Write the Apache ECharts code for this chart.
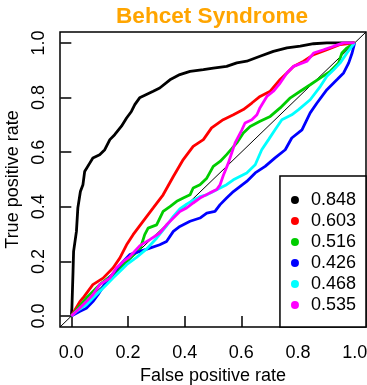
<!DOCTYPE html>
<html>
<head>
<meta charset="utf-8">
<script src="https://cdn.jsdelivr.net/npm/echarts@6/dist/echarts.min.js"></script>
<style>
  html, body { margin: 0; padding: 0; background: #fff; }
  #chart { width: 367px; height: 385px; }
</style>
</head>
<body>
<div id="chart"></div>
<script>
// Axis ticks shared by both axes
const tickValues = [0, 0.2, 0.4, 0.6, 0.8, 1.0];

// AUC of each model, used as legend labels
const aucLabels = ['0.848', '0.603', '0.516', '0.426', '0.468', '0.535'];

// ROC curves as [false positive rate, true positive rate]
const rocBlack = [
  [0, 0], [0.002, 0.029], [0.006, 0.163], [0.008, 0.237], [0.018, 0.31], [0.023, 0.396],
  [0.032, 0.456], [0.041, 0.481], [0.047, 0.529], [0.065, 0.56], [0.076, 0.579], [0.1, 0.591],
  [0.118, 0.609], [0.136, 0.646], [0.153, 0.664], [0.177, 0.695], [0.195, 0.725], [0.212, 0.749],
  [0.224, 0.774], [0.241, 0.799], [0.265, 0.811], [0.289, 0.823], [0.312, 0.835], [0.348, 0.865],
  [0.383, 0.884], [0.419, 0.896], [0.466, 0.902], [0.501, 0.908], [0.548, 0.914], [0.584, 0.927],
  [0.619, 0.933], [0.666, 0.951], [0.713, 0.969], [0.761, 0.982], [0.808, 0.988], [0.855, 0.997],
  [0.902, 1.0], [1, 1]
];
const rocRed = [
  [0, 0], [0.030, 0.053], [0.041, 0.066], [0.076, 0.115], [0.112, 0.139], [0.147, 0.176],
  [0.171, 0.212], [0.195, 0.261], [0.218, 0.298], [0.253, 0.347], [0.289, 0.396], [0.324, 0.444],
  [0.360, 0.511], [0.395, 0.573], [0.430, 0.621], [0.466, 0.646], [0.495, 0.689], [0.536, 0.719],
  [0.572, 0.737], [0.607, 0.756], [0.637, 0.780], [0.666, 0.804], [0.702, 0.823], [0.737, 0.866],
  [0.761, 0.890], [0.784, 0.914], [0.820, 0.933], [0.855, 0.957], [0.902, 0.975], [0.949, 0.994],
  [1, 1]
];
const rocGreen = [
  [0, 0], [0.023, 0.029], [0.053, 0.066], [0.100, 0.115], [0.159, 0.163], [0.206, 0.212],
  [0.242, 0.243], [0.259, 0.298], [0.271, 0.322], [0.301, 0.334], [0.324, 0.383], [0.348, 0.401],
  [0.372, 0.420], [0.395, 0.432], [0.419, 0.444], [0.430, 0.469], [0.454, 0.481], [0.478, 0.505],
  [0.501, 0.548], [0.525, 0.566], [0.548, 0.591], [0.584, 0.634], [0.607, 0.670], [0.631, 0.694],
  [0.666, 0.713], [0.702, 0.731], [0.737, 0.762], [0.773, 0.799], [0.808, 0.823], [0.843, 0.847],
  [0.879, 0.872], [0.914, 0.896], [0.943, 0.927], [0.955, 0.963], [0.973, 0.982], [1, 1]
];
const rocBlue = [
  [0, 0], [0.029, 0.017], [0.053, 0.029], [0.076, 0.053], [0.094, 0.078], [0.124, 0.127],
  [0.153, 0.163], [0.183, 0.2], [0.206, 0.225], [0.242, 0.237], [0.277, 0.249], [0.312, 0.261],
  [0.336, 0.273], [0.360, 0.310], [0.383, 0.328], [0.419, 0.347], [0.454, 0.359], [0.478, 0.377],
  [0.507, 0.383], [0.525, 0.408], [0.548, 0.432], [0.572, 0.456], [0.596, 0.475], [0.619, 0.493],
  [0.649, 0.524], [0.684, 0.548], [0.719, 0.579], [0.755, 0.609], [0.778, 0.652], [0.814, 0.682],
  [0.843, 0.744], [0.867, 0.780], [0.902, 0.829], [0.938, 0.866], [0.961, 0.890], [0.979, 0.927],
  [0.991, 0.963], [1, 1]
];
const rocCyan = [
  [0, 0], [0.018, 0.017], [0.053, 0.041], [0.088, 0.078], [0.124, 0.115], [0.147, 0.139],
  [0.171, 0.163], [0.195, 0.188], [0.230, 0.215], [0.265, 0.245], [0.301, 0.285], [0.336, 0.330],
  [0.360, 0.365], [0.383, 0.392], [0.407, 0.410], [0.430, 0.424], [0.454, 0.437], [0.478, 0.444],
  [0.501, 0.456], [0.525, 0.469], [0.548, 0.481], [0.572, 0.499], [0.619, 0.524], [0.649, 0.554],
  [0.672, 0.609], [0.696, 0.646], [0.719, 0.682], [0.743, 0.719], [0.778, 0.737], [0.802, 0.756],
  [0.843, 0.792], [0.879, 0.841], [0.902, 0.878], [0.926, 0.902], [0.949, 0.927], [0.973, 0.963],
  [0.991, 0.988], [1, 1]
];
const rocMagenta = [
  [0, 0], [0.029, 0.029], [0.053, 0.053], [0.076, 0.078], [0.100, 0.115], [0.136, 0.139],
  [0.159, 0.176], [0.183, 0.200], [0.206, 0.217], [0.242, 0.258], [0.277, 0.280], [0.312, 0.304],
  [0.336, 0.334], [0.360, 0.359], [0.383, 0.383], [0.407, 0.396], [0.430, 0.414], [0.454, 0.432],
  [0.489, 0.451], [0.513, 0.463], [0.525, 0.481], [0.536, 0.514], [0.554, 0.560], [0.566, 0.597],
  [0.578, 0.634], [0.590, 0.658], [0.602, 0.682], [0.613, 0.707], [0.637, 0.719], [0.655, 0.737],
  [0.666, 0.763], [0.690, 0.804], [0.713, 0.823], [0.737, 0.853], [0.761, 0.890], [0.784, 0.914],
  [0.832, 0.933], [0.855, 0.963], [0.890, 0.975], [0.926, 0.988], [0.961, 1.0], [1, 1]
];

const curves = [rocBlack, rocRed, rocGreen, rocBlue, rocCyan, rocMagenta];
const palette = ['#000000', '#FF0000', '#00CD00', '#0000FF', '#00FFFF', '#FF00FF'];
const FONT = '"Liberation Sans", Arial, Helvetica, sans-serif';

function makeAxis(name, extra) {
  const axis = {
    type: 'value',
    min: -0.04,
    max: 1.04,
    name: name,
    nameLocation: 'middle',
    nameTextStyle: { fontFamily: FONT, fontSize: 18, color: '#000' },
    splitLine: { show: false },
    axisLine: { show: false },
    axisTick: {
      show: true, customValues: tickValues, length: 11,
      lineStyle: { color: '#000', width: 1.5 }
    },
    axisLabel: {
      customValues: tickValues,
      formatter: v => Number(v).toFixed(1),
      fontFamily: FONT, fontSize: 18, color: '#000'
    }
  };
  return echarts.util.merge(axis, extra, true);
}

const series = curves.map((data, i) => ({
  name: aucLabels[i],
  type: 'line',
  data: data,
  showSymbol: false,
  symbol: 'none',
  color: palette[i],
  lineStyle: { color: palette[i], width: 2.8 },
  emphasis: { disabled: true },
  z: 3 + i
}));

// reference diagonal (chance line) spanning the whole plotting region
series.unshift({
  name: 'diagonal',
  type: 'line',
  data: [[-0.04, -0.04], [1.04, 1.04]],
  symbol: 'none',
  lineStyle: { color: '#000', width: 1 },
  emphasis: { disabled: true },
  z: 2
});

const chart = echarts.init(document.getElementById('chart'), null, { renderer: 'canvas' });
chart.setOption({
  animation: false,
  backgroundColor: '#fff',
  title: {
    text: 'Behcet Syndrome',
    left: 116,
    top: 5,
    padding: 0,
    textStyle: { fontFamily: FONT, fontSize: 22.6, fontWeight: 'bold', color: '#FFA500' }
  },
  grid: {
    left: 60, top: 32, right: 1, bottom: 58,
    containLabel: false,
    outerBoundsMode: 'none',
    show: true, borderColor: '#000', borderWidth: 1.5, backgroundColor: 'transparent'
  },
  xAxis: makeAxis('False positive rate', {
    nameGap: 28,
    axisLabel: { margin: 17 }
  }),
  yAxis: makeAxis('True positive rate', {
    nameGap: 26,
    axisLabel: { margin: 12, rotate: 90 }
  }),
  legend: {
    data: aucLabels,
    orient: 'vertical',
    right: 1,
    bottom: 58,
    icon: 'circle',
    itemWidth: 22,
    itemHeight: 8,
    itemGap: 3,
    padding: [15, 10, 13, 11],
    borderColor: '#000',
    borderWidth: 1.5,
    backgroundColor: '#fff',
    selectedMode: false,
    textStyle: { fontFamily: FONT, fontSize: 18, color: '#000', lineHeight: 18 }
  },
  series: series
});
</script>
</body>
</html>
